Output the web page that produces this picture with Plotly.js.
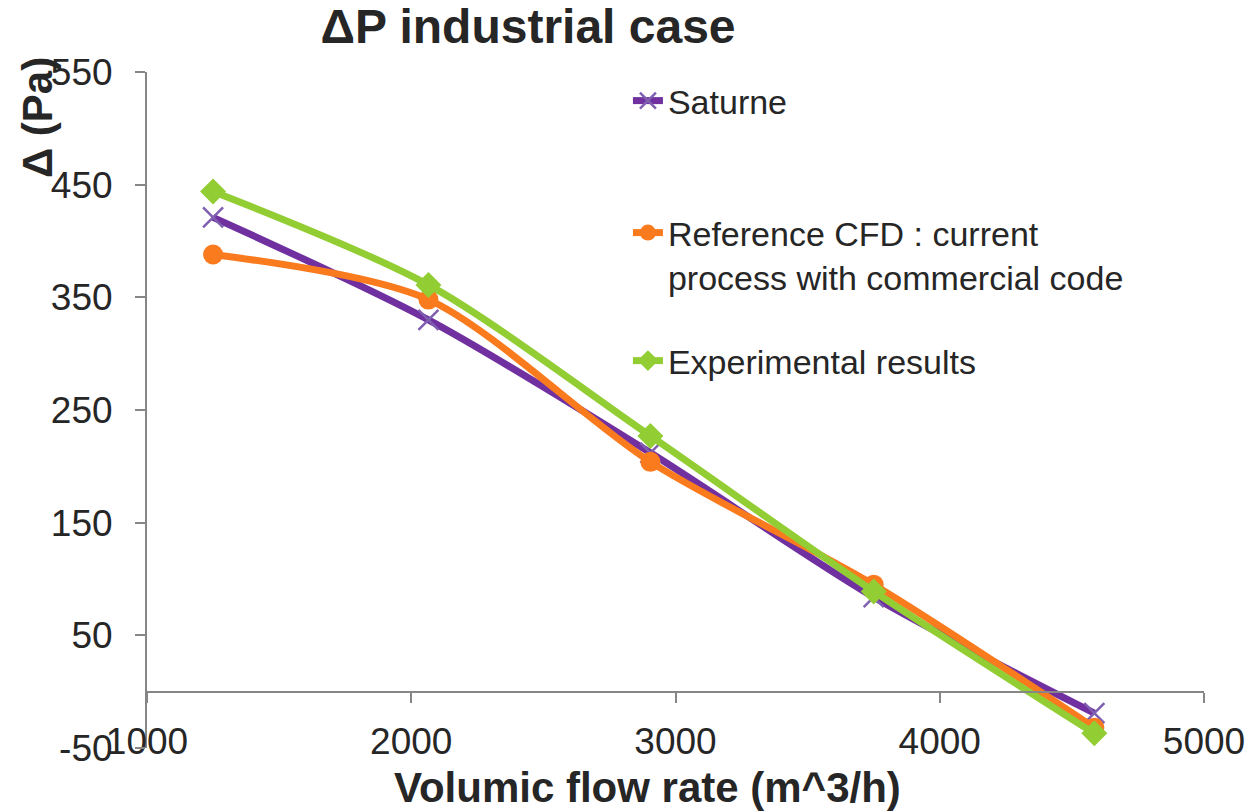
<!DOCTYPE html>
<html>
<head>
<meta charset="utf-8">
<script src="https://cdn.plot.ly/plotly-3.0.1.min.js"></script>
<style>html,body{margin:0;padding:0;background:#fff;}#chart{width:1250px;height:811px;}</style>
</head>
<body>
<div id="chart"></div>
<script>
// Data
const flowRate = [1250, 2065, 2905, 3750, 4585];
const saturne = [421, 330, 212, 84, -19];
const referenceCFD = [388, 348, 204, 95, -32];
const experimental = [444, 361, 227, 89, -37];

const seriesNames = ["Saturne", "Reference CFD : current<br>process with commercial code", "Experimental results"];
const xTicks = [1000, 2000, 3000, 4000, 5000];
const yTicks = [-50, 50, 150, 250, 350, 450, 550];

const textColor = "#262626";
const axisColor = "#868686";
const baseFont = "Liberation Sans, Arial, sans-serif";
const legendFont = {family: baseFont, size: 34, color: textColor};

const traces = [
  {
    x: flowRate, y: saturne, name: seriesNames[0], type: "scatter", mode: "lines+markers",
    line: {color: "#7030A0", width: 7, shape: "spline", smoothing: 0.8},
    marker: {symbol: "x-thin", size: 20, color: "#7F5FB0", line: {color: "#7F5FB0", width: 2.5}},
    legend: "legend"
  },
  {
    x: flowRate, y: referenceCFD, name: seriesNames[1], type: "scatter", mode: "lines+markers",
    line: {color: "#FA7A1E", width: 7, shape: "spline", smoothing: 0.8},
    marker: {symbol: "circle", size: 20, color: "#FA7A1E"},
    legend: "legend2"
  },
  {
    x: flowRate, y: experimental, name: seriesNames[2], type: "scatter", mode: "lines+markers",
    line: {color: "#92CD34", width: 7, shape: "spline", smoothing: 0.8},
    marker: {symbol: "diamond", size: 20, color: "#92CD34"},
    legend: "legend3"
  }
];

function legendAt(y) {
  return {x: 0.455, xanchor: "left", y: y, yanchor: "middle", font: legendFont,
          bgcolor: "rgba(0,0,0,0)", valign: "top", borderwidth: 0};
}

const layout = {
  width: 1250, height: 811,
  margin: {l: 147, r: 46, t: 72, b: 63, pad: 0},
  paper_bgcolor: "#fff", plot_bgcolor: "#fff",
  font: {family: baseFont, color: textColor},
  showlegend: true,
  title: {
    text: "<b>ΔP industrial case</b>",
    font: {family: baseFont, size: 48, color: textColor},
    xref: "container", x: 0.4224, xanchor: "center",
    yref: "container", y: 0.968, yanchor: "middle"
  },
  xaxis: {
    range: [1000, 5000], tickvals: xTicks, ticktext: xTicks.map(String),
    anchor: "free", position: 50 / 600,
    showline: true, linecolor: axisColor, linewidth: 2,
    ticks: "outside", ticklen: 10, tickwidth: 2, tickcolor: axisColor,
    showgrid: false, zeroline: false,
    tickfont: {family: baseFont, size: 37, color: textColor},
    ticklabelstandoff: 7
  },
  yaxis: {
    range: [-50, 550], tickvals: yTicks, ticktext: yTicks.map(String),
    showline: true, linecolor: axisColor, linewidth: 2,
    ticks: "outside", ticklen: 10, tickwidth: 2, tickcolor: axisColor,
    showgrid: false, zeroline: false,
    tickfont: {family: baseFont, size: 37, color: textColor},
    ticklabelstandoff: 15
  },
  legend: legendAt((748 - 101) / 676),
  legend2: legendAt((748 - 255) / 676),
  legend3: legendAt((748 - 361) / 676),
  annotations: [
    {
      text: "<b>Δ (Pa)</b>", textangle: -90,
      xref: "paper", yref: "paper", x: (37 - 147) / 1057, y: (748 - 118) / 676,
      xanchor: "center", yanchor: "middle", showarrow: false,
      font: {family: baseFont, size: 42, color: textColor}
    },
    {
      text: "<b>Volumic flow rate (m^3/h)</b>",
      xref: "paper", yref: "paper", x: (647 - 147) / 1057, y: (748 - 787) / 676,
      xanchor: "center", yanchor: "middle", showarrow: false,
      font: {family: baseFont, size: 42, color: textColor}
    }
  ]
};

Plotly.newPlot("chart", traces, layout, {displayModeBar: false, staticPlot: true});
</script>
</body>
</html>
